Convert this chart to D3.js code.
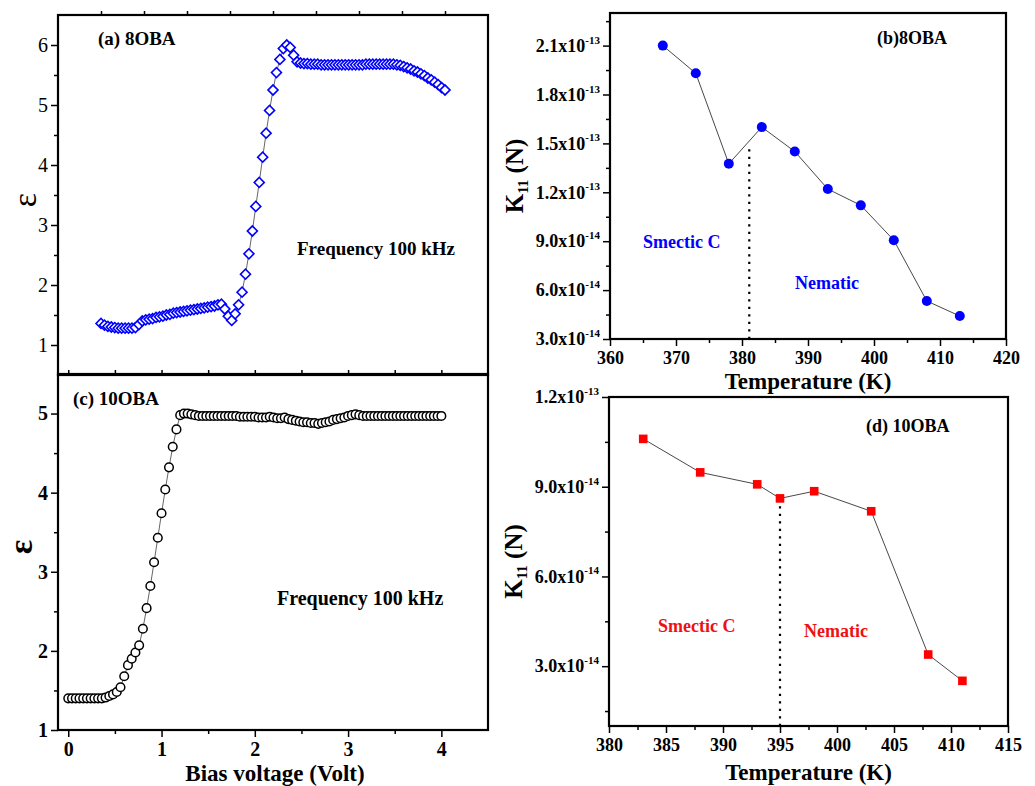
<!DOCTYPE html>
<html><head><meta charset="utf-8">
<script src="https://cdn.jsdelivr.net/npm/d3@7"></script>
<style>
body{margin:0;background:#fff}
svg{display:block}
text{font-family:"Liberation Serif","Times New Roman",serif}
</style>
</head><body>
<svg id="chart" width="1035" height="786"></svg>
<script>
// ---------------- DATA ----------------
const biasVoltage = [0,0.04,0.08,0.12,0.16,0.2,0.24,0.28,0.32,0.36,0.4,0.44,0.48,0.52,0.56,0.6,0.64,0.68,0.72,0.76,
  0.8,0.84,0.88,0.92,0.96,1,1.04,1.08,1.12,1.16,1.2,1.24,1.28,1.32,1.36,1.4,1.44,1.48,1.52,1.56,
  1.6,1.64,1.68,1.72,1.76,1.8,1.84,1.88,1.92,1.96,2,2.04,2.08,2.12,2.16,2.2,2.24,2.28,2.32,2.36,
  2.4,2.44,2.48,2.52,2.56,2.6,2.64,2.68,2.72,2.76,2.8,2.84,2.88,2.92,2.96,3,3.04,3.08,3.12,3.16,
  3.2,3.24,3.28,3.32,3.36,3.4,3.44,3.48,3.52,3.56,3.6,3.64,3.68,3.72,3.76,3.8,3.84,3.88,3.92,3.96,4];

// (a) 8OBA permittivity vs bias voltage
const eps8OBA = [1.36,1.33,1.31,1.30,1.29,1.28,1.28,1.28,1.28,1.28,
  1.29,1.34,1.40,1.42,1.43,1.44,1.46,1.47,1.48,1.50,
  1.51,1.53,1.54,1.55,1.56,1.57,1.58,1.59,1.60,1.61,
  1.62,1.63,1.64,1.65,1.67,1.68,1.60,1.48,1.41,1.52,
  1.67,1.88,2.18,2.52,2.90,3.31,3.71,4.13,4.53,4.91,
  5.25,5.54,5.76,5.94,6.00,5.96,5.83,5.72,5.70,5.69,
  5.69,5.68,5.68,5.68,5.67,5.67,5.67,5.67,5.67,5.67,
  5.67,5.67,5.67,5.67,5.67,5.67,5.67,5.68,5.68,5.68,
  5.68,5.68,5.68,5.68,5.68,5.68,5.67,5.66,5.64,5.62,
  5.60,5.57,5.55,5.52,5.49,5.45,5.42,5.38,5.34,5.29,5.25];

// (c) 10OBA permittivity vs bias voltage
const eps10OBA = [1.40,1.40,1.40,1.40,1.40,1.40,1.40,1.40,1.40,1.40,
  1.41,1.43,1.45,1.48,1.54,1.68,1.82,1.90,1.98,2.07,
  2.28,2.54,2.82,3.12,3.43,3.74,4.04,4.32,4.58,4.80,
  4.98,5.00,5.00,4.99,4.98,4.97,4.97,4.97,4.97,4.97,
  4.97,4.97,4.97,4.97,4.97,4.97,4.96,4.96,4.96,4.96,
  4.96,4.95,4.95,4.95,4.96,4.95,4.94,4.94,4.95,4.93,
  4.92,4.91,4.90,4.89,4.89,4.88,4.88,4.87,4.88,4.89,
  4.90,4.92,4.93,4.94,4.95,4.97,4.98,4.99,4.98,4.97,
  4.97,4.97,4.97,4.97,4.97,4.97,4.97,4.97,4.97,4.97,
  4.97,4.97,4.97,4.97,4.97,4.97,4.97,4.97,4.97,4.97,4.97];

// (b) 8OBA K11 vs temperature
const temp8OBA = [368,373,378,383,388,393,398,403,408,413];
const k11_8OBA = [2.10e-13,1.93e-13,1.375e-13,1.60e-13,1.45e-13,1.22e-13,1.12e-13,0.906e-13,0.533e-13,0.441e-13];
const transition8OBA = 381.1;

// (d) 10OBA K11 vs temperature
const temp10OBA = [383,388,393,395,398,403,408,411];
const k11_10OBA = [10.6e-14,9.48e-14,9.08e-14,8.61e-14,8.85e-14,8.18e-14,3.39e-14,2.51e-14];
const transition10OBA = 395;

// tick values
const ticksA_Y = [1,2,3,4,5,6];
const ticksA_Yminor = [1.5,2.5,3.5,4.5,5.5];
const ticksA_Xtop = [0,0.5,1,1.5,2,2.5,3,3.5,4];
const ticksC_X = [0,1,2,3,4];
const ticksC_Xminor = [0.5,1.5,2.5,3.5];
const ticksC_Y = [1,2,3,4,5];
const ticksC_Yminor = [1.5,2.5,3.5,4.5];
const ticksB_X = [360,370,380,390,400,410,420];
const ticksB_Xminor = [365,375,385,395,405,415];
const ticksB_Y = [3.0e-14,6.0e-14,9.0e-14,1.2e-13,1.5e-13,1.8e-13,2.1e-13];
const ticksB_Yminor = [4.5e-14,7.5e-14,10.5e-14,1.35e-13,1.65e-13,1.95e-13,2.25e-13];
const ticksD_X = [380,385,390,395,400,405,410,415];
const ticksD_Xminor = [382.5,387.5,392.5,397.5,402.5,407.5,412.5];
const ticksD_Y = [3.0e-14,6.0e-14,9.0e-14,1.2e-13];
const ticksD_Yminor = [1.5e-14,4.5e-14,7.5e-14,10.5e-14];

// ---------------- DRAW ----------------
const svg = d3.select("#chart");
const FONT = '"Liberation Serif","Times New Roman",serif';

function sciParts(v){
  let e = Math.floor(Math.log10(v) + 1e-9);
  let m = v / Math.pow(10, e);
  return [m.toFixed(1) + "x10", String(e)];
}

function drawAxis(axisGen, scale, major, minor, transform, opts){
  const g = svg.append("g").attr("transform", transform);
  if (minor && minor.length){
    const gm = g.append("g").call(axisGen(scale).tickValues(minor).tickSize(4).tickFormat(""));
    gm.select(".domain").remove();
    gm.selectAll("line").attr("stroke-width", 1.5);
  }
  const ax = axisGen(scale).tickValues(major).tickSize(opts.tickSize || 7).tickPadding(opts.padding || 3);
  if (opts.noLabels) ax.tickFormat("");
  else if (!opts.sci) ax.tickFormat(d => d);
  const gM = g.append("g").call(ax);
  gM.attr("font-family", FONT).attr("font-size", opts.fontSize || 18)
    .attr("font-weight", opts.bold ? "bold" : "normal");
  gM.select(".domain").remove();
  gM.selectAll("line").attr("stroke-width", 1.5);
  gM.selectAll("text").attr("fill", "#000");
  if (opts.sci){
    gM.selectAll("text").each(function(d){
      const t = d3.select(this);
      const [m, e] = sciParts(d);
      t.text(null);
      t.append("tspan").text(m);
      t.append("tspan").text(e).attr("font-size", 11).attr("dy", "-0.75em");
    });
  }
  return g;
}

function frame(x0, y0, x1, y1){
  svg.append("rect").attr("x", x0).attr("y", y0).attr("width", x1 - x0).attr("height", y1 - y0)
    .attr("fill", "none").attr("stroke", "#000").attr("stroke-width", 2.2);
}

function label(x, y, txt, size, color, anchor){
  return svg.append("text").attr("x", x).attr("y", y).text(txt)
    .attr("font-size", size).attr("font-weight", "bold").attr("fill", color || "#000")
    .attr("text-anchor", anchor || "start");
}

// ===== Panel (a) =====
{
  const L = 58, R = 488, T = 15, B = 375;
  const x = d3.scaleLinear([-0.5, 4.5], [L, R]);
  const y = d3.scaleLinear([0.5, 6.5], [B, T]);
  drawAxis(d3.axisLeft, y, ticksA_Y, ticksA_Yminor, `translate(${L},0)`, {fontSize: 20, bold: false});
  drawAxis(d3.axisTop, x, ticksA_Xtop, [], `translate(0,${T})`, {noLabels: true, tickSize: 4});
  const pts = biasVoltage.map((v, i) => [v, eps8OBA[i]]);
  svg.append("path").datum(pts).attr("fill", "none").attr("stroke", "#222").attr("stroke-width", 0.7)
    .attr("d", d3.line().x(d => x(d[0])).y(d => y(d[1])));
  svg.append("g").selectAll("path").data(pts).join("path")
    .attr("d", d3.symbol(d3.symbolSquare, 50)())
    .attr("transform", d => `translate(${x(d[0])},${y(d[1])}) rotate(45)`)
    .attr("fill", "#fff").attr("stroke", "#0000ff").attr("stroke-width", 1.6);
  frame(L, T, R, B);
  label(98, 45, "(a) 8OBA", 19);
  label(297, 255, "Frequency 100 kHz", 19);
  svg.append("text").attr("transform", `translate(36,200) rotate(-90)`).attr("text-anchor", "middle")
    .attr("font-size", 34).text("ε");
}

// ===== Panel (c) =====
{
  const L = 58, R = 488, T = 374, B = 730;
  const x = d3.scaleLinear([-0.11, 4.5], [L, R]);
  const y = d3.scaleLinear([1, 5.5], [B, T]);
  drawAxis(d3.axisLeft, y, ticksC_Y, ticksC_Yminor, `translate(${L},0)`, {fontSize: 20, bold: true});
  drawAxis(d3.axisBottom, x, ticksC_X, ticksC_Xminor, `translate(0,${B})`, {fontSize: 20, bold: true, padding: 5});
  drawAxis(d3.axisTop, x, [...ticksC_X, ...ticksC_Xminor], [], `translate(0,${T})`, {noLabels: true, tickSize: 4});
  const pts = biasVoltage.map((v, i) => [v, eps10OBA[i]]);
  svg.append("path").datum(pts).attr("fill", "none").attr("stroke", "#222").attr("stroke-width", 0.7)
    .attr("d", d3.line().x(d => x(d[0])).y(d => y(d[1])));
  svg.append("g").selectAll("circle").data(pts).join("circle")
    .attr("cx", d => x(d[0])).attr("cy", d => y(d[1])).attr("r", 4.3)
    .attr("fill", "#fff").attr("stroke", "#000").attr("stroke-width", 1.5);
  frame(L, T, R, B);
  label(73, 405, "(c) 10OBA", 19);
  label(277, 605, "Frequency 100 kHz", 20);
  svg.append("text").attr("transform", `translate(32,547) rotate(-90)`).attr("text-anchor", "middle")
    .attr("font-size", 34).attr("font-weight", "bold").text("ε");
  label(275, 781, "Bias voltage (Volt)", 23, "#000", "middle");
}

function kPanel(L, R, T, B, xDom, yDom, tx, ty, txMinor, tyMinor, temps, ks, trans, marker, color, titleOff){
  const x = d3.scaleLinear(xDom, [L, R]);
  const y = d3.scaleLinear(yDom, [B, T]);
  drawAxis(d3.axisLeft, y, ty, tyMinor, `translate(${L},0)`, {fontSize: 18, bold: true, sci: true});
  drawAxis(d3.axisBottom, x, tx, txMinor, `translate(0,${B})`, {fontSize: 18, bold: true, padding: 5});
  const pts = temps.map((t, i) => [t, ks[i]]);
  svg.append("path").datum(pts).attr("fill", "none").attr("stroke", "#333").attr("stroke-width", 0.9)
    .attr("d", d3.line().x(d => x(d[0])).y(d => y(d[1])));
  // dotted transition line up to the data curve
  let k = d3.bisector(d => d[0]).left(pts, trans);
  let yv;
  if (pts[k][0] === trans) yv = pts[k][1];
  else { const a = pts[k-1], b = pts[k]; yv = a[1] + (b[1]-a[1]) * (trans - a[0]) / (b[0]-a[0]); }
  svg.append("line").attr("x1", x(trans)).attr("x2", x(trans)).attr("y1", B).attr("y2", y(yv) + 6)
    .attr("stroke", "#000").attr("stroke-width", 2.2).attr("stroke-dasharray", "2.2,5.3");
  if (marker === "circle"){
    svg.append("g").selectAll("circle").data(pts).join("circle")
      .attr("cx", d => x(d[0])).attr("cy", d => y(d[1])).attr("r", 5).attr("fill", color);
  } else {
    svg.append("g").selectAll("rect").data(pts).join("rect")
      .attr("x", d => x(d[0]) - 4.3).attr("y", d => y(d[1]) - 4.3).attr("width", 8.6).attr("height", 8.6)
      .attr("fill", color);
  }
  frame(L, T, R, B);
  const yt = svg.append("text").attr("transform", `translate(${L - 87},${(T + B) / 2}) rotate(-90)`)
    .attr("text-anchor", "middle").attr("font-size", 25).attr("font-weight", "bold");
  yt.append("tspan").text("K");
  yt.append("tspan").text("11").attr("font-size", 15).attr("dy", "0.35em");
  yt.append("tspan").text(" (N)").attr("dy", "-0.22em");
  label((L + R) / 2, B + titleOff, "Temperature (K)", 23, "#000", "middle");
}

// ===== Panel (b) =====
kPanel(610, 1006, 13, 339, [360, 420], [3e-14, 2.3e-13], ticksB_X, ticksB_Y, ticksB_Xminor, ticksB_Yminor,
  temp8OBA, k11_8OBA, transition8OBA, "circle", "#0000ff", 50);
label(877, 44, "(b)8OBA", 18);
label(643, 248, "Smectic C", 18, "#0000ff");
label(795, 289, "Nematic", 18, "#0000ff");

// ===== Panel (d) =====
kPanel(609, 1008, 397, 726, [380, 415], [1e-14, 1.2e-13], ticksD_X, ticksD_Y, ticksD_Xminor, ticksD_Yminor,
  temp10OBA, k11_10OBA, transition10OBA, "square", "#ff0000", 54);
label(866, 432, "(d) 10OBA", 18);
label(658, 632, "Smectic C", 18, "#ee1111");
label(804, 637, "Nematic", 18, "#ee1111");
</script>
</body></html>
